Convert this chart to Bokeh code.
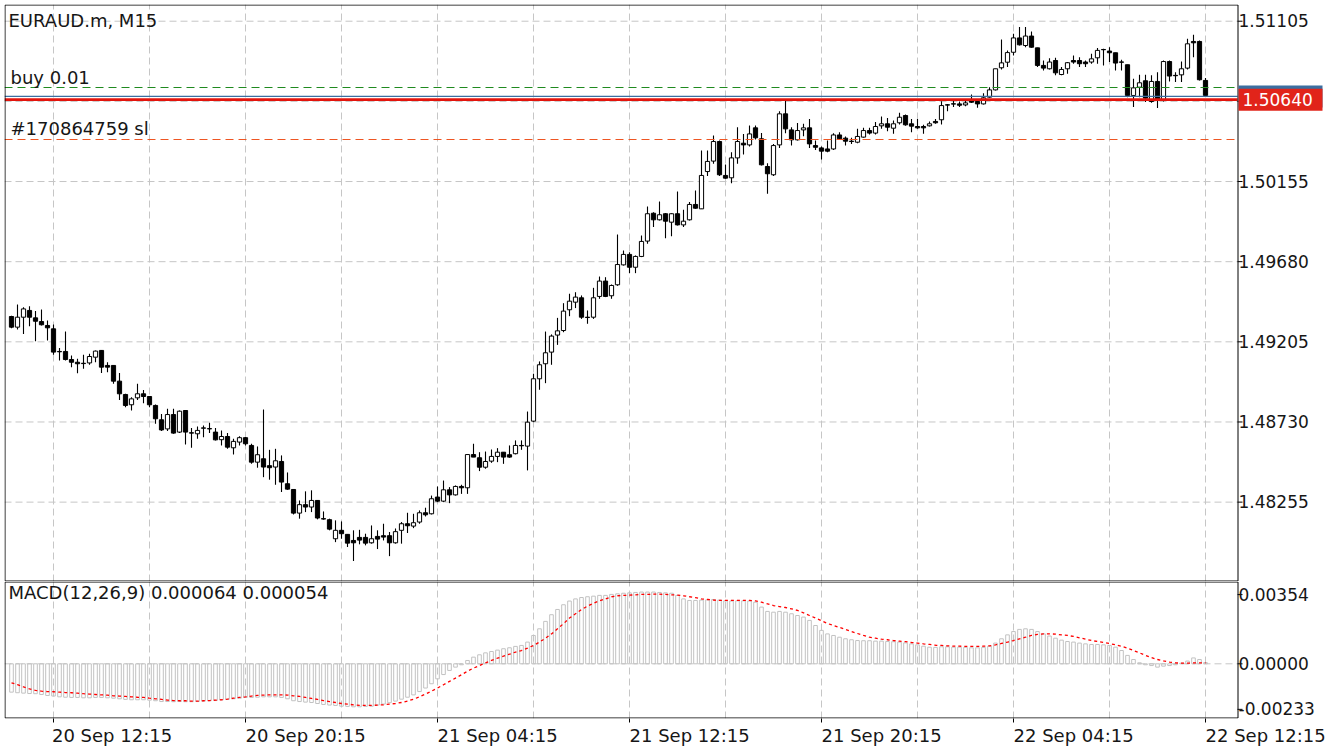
from bokeh.plotting import figure
from bokeh.layouts import column
from bokeh.models import (Range1d, FixedTicker, Grid, LinearAxis, Label,
                          ColumnDataSource)
from bokeh.core.properties import value
from bokeh.embed import file_html
from bokeh.resources import INLINE

# ---------------- data ----------------
chart_title = "EURAUD.m, M15"

opens = [
    1.49355, 1.49292, 1.49351, 1.49391, 1.49347, 1.49325, 1.49302, 1.49282, 1.49148, 1.49148,
    1.49100, 1.49084, 1.49076, 1.49080, 1.49114, 1.49154, 1.49065, 1.49065, 1.48972, 1.48893,
    1.48832, 1.48873, 1.48897, 1.48881, 1.48828, 1.48743, 1.48689, 1.48774, 1.48670, 1.48798,
    1.48666, 1.48660, 1.48693, 1.48689, 1.48670, 1.48625, 1.48644, 1.48577, 1.48611, 1.48637,
    1.48591, 1.48492, 1.48512, 1.48471, 1.48463, 1.48496, 1.48364, 1.48330, 1.48190, 1.48240,
    1.48226, 1.48265, 1.48157, 1.48151, 1.48038, 1.48088, 1.48064, 1.48028, 1.48046, 1.48046,
    1.48014, 1.48052, 1.48056, 1.48056, 1.48014, 1.48088, 1.48127, 1.48113, 1.48137, 1.48192,
    1.48186, 1.48285, 1.48261, 1.48328, 1.48298, 1.48348, 1.48340, 1.48537, 1.48518, 1.48462,
    1.48498, 1.48526, 1.48551, 1.48536, 1.48542, 1.48591, 1.48587, 1.48735, 1.48986, 1.49075,
    1.49144, 1.49245, 1.49272, 1.49395, 1.49440, 1.49466, 1.49351, 1.49351, 1.49474, 1.49565,
    1.49478, 1.49543, 1.49661, 1.49723, 1.49647, 1.49711, 1.49802, 1.49967, 1.49928, 1.49964,
    1.49914, 1.49964, 1.49898, 1.49928, 1.50019, 1.49993, 1.50214, 1.50276, 1.50392, 1.50191,
    1.50177, 1.50295, 1.50382, 1.50372, 1.50473, 1.50408, 1.50244, 1.50195, 1.50372, 1.50556,
    1.50461, 1.50402, 1.50461, 1.50473, 1.50368, 1.50354, 1.50348, 1.50348, 1.50431, 1.50412,
    1.50394, 1.50388, 1.50418, 1.50457, 1.50442, 1.50485, 1.50497, 1.50471, 1.50503, 1.50546,
    1.50497, 1.50481, 1.50481, 1.50485, 1.50511, 1.50521, 1.50609, 1.50615, 1.50615, 1.50609,
    1.50635, 1.50629, 1.50615, 1.50655, 1.50698, 1.50829, 1.50862, 1.50921, 1.51006, 1.50961,
    1.51017, 1.50947, 1.50843, 1.50823, 1.50872, 1.50789, 1.50823, 1.50872, 1.50872, 1.50863,
    1.50863, 1.50888, 1.50936, 1.50928, 1.50918, 1.50863, 1.50847, 1.50665, 1.50714, 1.50752,
    1.50629, 1.50748, 1.50635, 1.50866, 1.50784, 1.50787, 1.50827, 1.50985, 1.50985, 1.50754,
]

highs = [
    1.49359, 1.49426, 1.49410, 1.49416, 1.49387, 1.49396, 1.49331, 1.49308, 1.49169, 1.49266,
    1.49124, 1.49104, 1.49128, 1.49134, 1.49154, 1.49157, 1.49084, 1.49065, 1.49021, 1.48897,
    1.48877, 1.48956, 1.48920, 1.48881, 1.48834, 1.48778, 1.48808, 1.48808, 1.48798, 1.48798,
    1.48695, 1.48703, 1.48709, 1.48725, 1.48695, 1.48680, 1.48664, 1.48631, 1.48645, 1.48641,
    1.48601, 1.48585, 1.48804, 1.48565, 1.48571, 1.48532, 1.48431, 1.48330, 1.48265, 1.48319,
    1.48325, 1.48265, 1.48200, 1.48157, 1.48147, 1.48141, 1.48064, 1.48088, 1.48091, 1.48068,
    1.48117, 1.48088, 1.48127, 1.48078, 1.48099, 1.48137, 1.48192, 1.48186, 1.48206, 1.48222,
    1.48294, 1.48348, 1.48383, 1.48344, 1.48354, 1.48358, 1.48537, 1.48601, 1.48551, 1.48555,
    1.48567, 1.48575, 1.48551, 1.48591, 1.48621, 1.48621, 1.48792, 1.49016, 1.49089, 1.49266,
    1.49249, 1.49347, 1.49434, 1.49490, 1.49499, 1.49480, 1.49391, 1.49525, 1.49592, 1.49588,
    1.49545, 1.49841, 1.49746, 1.49736, 1.49717, 1.49835, 1.50007, 1.49973, 1.50037, 1.49969,
    1.49967, 1.50096, 1.49987, 1.50033, 1.50102, 1.50339, 1.50339, 1.50428, 1.50398, 1.50256,
    1.50329, 1.50477, 1.50437, 1.50487, 1.50487, 1.50443, 1.50263, 1.50378, 1.50572, 1.50635,
    1.50477, 1.50502, 1.50497, 1.50526, 1.50398, 1.50362, 1.50398, 1.50441, 1.50447, 1.50422,
    1.50414, 1.50467, 1.50473, 1.50473, 1.50507, 1.50540, 1.50532, 1.50517, 1.50562, 1.50552,
    1.50526, 1.50526, 1.50491, 1.50511, 1.50525, 1.50631, 1.50615, 1.50635, 1.50629, 1.50635,
    1.50671, 1.50635, 1.50678, 1.50714, 1.50823, 1.50996, 1.50931, 1.51030, 1.51070, 1.51070,
    1.51044, 1.50947, 1.50872, 1.50886, 1.50888, 1.50833, 1.50863, 1.50902, 1.50892, 1.50872,
    1.50912, 1.50946, 1.50942, 1.50951, 1.50918, 1.50876, 1.50847, 1.50764, 1.50787, 1.50787,
    1.50784, 1.50803, 1.50872, 1.50872, 1.50803, 1.50866, 1.51001, 1.51024, 1.50991, 1.50768,
]

lows = [
    1.49286, 1.49278, 1.49252, 1.49298, 1.49209, 1.49302, 1.49213, 1.49128, 1.49094, 1.49094,
    1.49055, 1.49019, 1.49045, 1.49069, 1.49084, 1.49021, 1.49025, 1.48956, 1.48861, 1.48818,
    1.48798, 1.48861, 1.48841, 1.48818, 1.48719, 1.48676, 1.48676, 1.48660, 1.48664, 1.48597,
    1.48577, 1.48630, 1.48640, 1.48664, 1.48620, 1.48591, 1.48571, 1.48538, 1.48591, 1.48591,
    1.48482, 1.48459, 1.48403, 1.48388, 1.48358, 1.48315, 1.48328, 1.48182, 1.48157, 1.48196,
    1.48196, 1.48153, 1.48151, 1.48088, 1.48018, 1.48038, 1.47989, 1.47906, 1.48005, 1.47999,
    1.48009, 1.47977, 1.48028, 1.47935, 1.48009, 1.48009, 1.48072, 1.48101, 1.48127, 1.48170,
    1.48182, 1.48255, 1.48255, 1.48249, 1.48294, 1.48304, 1.48304, 1.48522, 1.48439, 1.48453,
    1.48488, 1.48492, 1.48482, 1.48518, 1.48538, 1.48565, 1.48443, 1.48729, 1.48921, 1.48960,
    1.49069, 1.49187, 1.49262, 1.49357, 1.49405, 1.49341, 1.49312, 1.49341, 1.49460, 1.49470,
    1.49460, 1.49537, 1.49657, 1.49612, 1.49612, 1.49707, 1.49786, 1.49885, 1.49924, 1.49819,
    1.49831, 1.49894, 1.49885, 1.49924, 1.49993, 1.49993, 1.50187, 1.50260, 1.50187, 1.50171,
    1.50145, 1.50260, 1.50315, 1.50362, 1.50404, 1.50250, 1.50082, 1.50187, 1.50354, 1.50441,
    1.50368, 1.50398, 1.50423, 1.50354, 1.50342, 1.50285, 1.50329, 1.50342, 1.50402, 1.50368,
    1.50378, 1.50382, 1.50414, 1.50434, 1.50434, 1.50467, 1.50453, 1.50438, 1.50493, 1.50485,
    1.50447, 1.50467, 1.50438, 1.50481, 1.50497, 1.50493, 1.50572, 1.50596, 1.50596, 1.50601,
    1.50621, 1.50592, 1.50611, 1.50651, 1.50694, 1.50819, 1.50833, 1.50902, 1.50961, 1.50951,
    1.50947, 1.50833, 1.50813, 1.50819, 1.50784, 1.50784, 1.50793, 1.50853, 1.50833, 1.50833,
    1.50853, 1.50853, 1.50843, 1.50863, 1.50813, 1.50813, 1.50655, 1.50596, 1.50655, 1.50626,
    1.50622, 1.50590, 1.50629, 1.50748, 1.50744, 1.50744, 1.50819, 1.50892, 1.50754, 1.50661,
]

closes = [
    1.49292, 1.49351, 1.49400, 1.49351, 1.49327, 1.49306, 1.49288, 1.49144, 1.49146, 1.49100,
    1.49084, 1.49075, 1.49078, 1.49118, 1.49150, 1.49055, 1.49055, 1.48972, 1.48897, 1.48828,
    1.48867, 1.48897, 1.48881, 1.48832, 1.48749, 1.48683, 1.48774, 1.48664, 1.48794, 1.48670,
    1.48664, 1.48680, 1.48695, 1.48691, 1.48624, 1.48644, 1.48581, 1.48615, 1.48637, 1.48601,
    1.48492, 1.48536, 1.48463, 1.48459, 1.48500, 1.48374, 1.48332, 1.48190, 1.48240, 1.48226,
    1.48265, 1.48161, 1.48155, 1.48095, 1.48088, 1.48068, 1.48012, 1.48014, 1.48030, 1.48012,
    1.48038, 1.48036, 1.48048, 1.48014, 1.48080, 1.48127, 1.48115, 1.48133, 1.48192, 1.48180,
    1.48275, 1.48261, 1.48328, 1.48298, 1.48348, 1.48340, 1.48537, 1.48522, 1.48462, 1.48496,
    1.48526, 1.48551, 1.48522, 1.48522, 1.48591, 1.48589, 1.48729, 1.48986, 1.49069, 1.49140,
    1.49239, 1.49270, 1.49387, 1.49446, 1.49470, 1.49351, 1.49349, 1.49466, 1.49565, 1.49474,
    1.49539, 1.49663, 1.49723, 1.49647, 1.49711, 1.49800, 1.49964, 1.49928, 1.49958, 1.49920,
    1.49964, 1.49898, 1.49920, 1.50019, 1.49997, 1.50191, 1.50274, 1.50392, 1.50195, 1.50175,
    1.50295, 1.50392, 1.50372, 1.50437, 1.50414, 1.50254, 1.50201, 1.50368, 1.50556, 1.50467,
    1.50402, 1.50457, 1.50473, 1.50378, 1.50358, 1.50335, 1.50335, 1.50431, 1.50408, 1.50394,
    1.50392, 1.50422, 1.50457, 1.50442, 1.50481, 1.50497, 1.50477, 1.50497, 1.50536, 1.50491,
    1.50483, 1.50473, 1.50473, 1.50497, 1.50503, 1.50605, 1.50608, 1.50614, 1.50607, 1.50621,
    1.50625, 1.50615, 1.50651, 1.50698, 1.50823, 1.50858, 1.50919, 1.51006, 1.50965, 1.51017,
    1.50951, 1.50843, 1.50827, 1.50863, 1.50799, 1.50819, 1.50859, 1.50863, 1.50853, 1.50853,
    1.50882, 1.50932, 1.50937, 1.50918, 1.50857, 1.50862, 1.50665, 1.50710, 1.50740, 1.50649,
    1.50748, 1.50635, 1.50866, 1.50780, 1.50782, 1.50823, 1.50971, 1.50977, 1.50758, 1.50665,
]

# MACD(12,26,9) main and signal, in units of 1e-5
macd_main_x1e5 = [
    -145, -148, -150, -152, -153, -157, -162, -165, -169, -171,
    -172, -172, -174, -174, -172, -172, -174, -176, -179, -182,
    -184, -184, -184, -186, -189, -193, -193, -194, -193, -194,
    -194, -193, -191, -189, -188, -184, -182, -179, -176, -172,
    -172, -171, -169, -169, -169, -172, -179, -189, -193, -196,
    -198, -203, -208, -211, -213, -217, -218, -220, -220, -218,
    -217, -211, -206, -199, -191, -181, -171, -159, -142, -124,
    -102, -77, -55, -34, -17, -5, 17, 34, 46, 56,
    63, 70, 77, 82, 89, 94, 111, 145, 179, 217,
    251, 278, 302, 321, 332, 339, 343, 346, 350, 350,
    355, 358, 361, 363, 365, 367, 367, 367, 365, 363,
    361, 350, 332, 324, 324, 326, 327, 329, 326, 322,
    321, 322, 322, 321, 315, 290, 268, 264, 268, 264,
    256, 247, 239, 222, 196, 171, 153, 145, 136, 128,
    123, 119, 118, 118, 116, 116, 114, 113, 111, 107,
    102, 97, 90, 85, 84, 87, 87, 85, 85, 84,
    82, 82, 84, 90, 106, 128, 148, 165, 176, 179,
    176, 165, 153, 142, 131, 121, 114, 111, 106, 102,
    99, 99, 97, 94, 85, 68, 43, 22, 5, -5,
    -9, -17, -12, -9, -5, 3, 14, 30, 22, 6.4,
]

macd_signal_x1e5 = [
    -97, -107, -118, -128, -136, -140, -142, -143, -145, -147,
    -148, -150, -153, -155, -157, -159, -160, -164, -165, -167,
    -169, -171, -172, -176, -179, -182, -186, -188, -189, -189,
    -191, -191, -189, -188, -186, -184, -181, -176, -172, -169,
    -165, -162, -160, -159, -159, -159, -160, -164, -167, -172,
    -177, -182, -188, -193, -198, -203, -206, -210, -213, -213,
    -213, -211, -210, -206, -203, -198, -191, -181, -169, -155,
    -140, -124, -107, -90, -73, -56, -38, -22, -9, 5,
    17, 29, 39, 49, 60, 68, 80, 94, 111, 131,
    153, 179, 205, 234, 256, 278, 295, 310, 322, 332,
    343, 348, 350, 351, 353, 355, 355, 356, 356, 355,
    353, 351, 348, 343, 338, 332, 329, 326, 324, 324,
    324, 324, 324, 324, 322, 315, 307, 298, 293, 288,
    281, 273, 261, 247, 234, 220, 206, 196, 186, 176,
    165, 155, 145, 136, 131, 126, 123, 119, 116, 113,
    109, 106, 102, 99, 95, 94, 92, 90, 90, 89,
    89, 89, 90, 92, 97, 104, 111, 119, 128, 136,
    145, 150, 153, 153, 152, 148, 145, 140, 133, 126,
    119, 114, 109, 104, 97, 90, 80, 68, 56, 43,
    32, 22, 15, 9, 5, 3, 3, 5, 5, 5.4,
]

x_label_bars = [7, 39, 71, 103, 135, 167, 199]
x_labels = ["20 Sep 12:15", "20 Sep 20:15", "21 Sep 04:15", "21 Sep 12:15",
            "21 Sep 20:15", "22 Sep 04:15", "22 Sep 12:15"]
grid_bars = [7, 23, 39, 55, 71, 87, 103, 119, 135, 151, 167, 183, 199]
price_ticks = [1.48255, 1.48730, 1.49205, 1.49680, 1.50155, 1.50630, 1.51105]
macd_ticks = [-0.00233, 0.0, 0.00354]

bid_price = 1.50640
ask_price = 1.50659
buy_price = 1.50712
sl_price = 1.50404
buy_text = "buy 0.01"
sl_text = "#170864759 sl"
macd_text = "MACD(12,26,9) 0.000064 0.000054"

# ---------------- layout / styling constants ----------------
FONT = "DejaVu Sans"
TXT = "#161616"
GRID = "#c6c6c6"
NBSP = "\u00a0"
RED = "#e1241a"
BLUE = "#3b6ea0"

FRAME_W = 1324                 # frame spans pixels 4..1328
PX = 1 / 6                     # bar units per screen pixel
XS = -7 * PX                   # left edge of the chart area
XE = XS + 1233 * PX            # right edge of the chart area (price scale starts here)
x_range = Range1d(XS, XS + FRAME_W * PX)

Y1 = (1.477847, 1.512040)      # price panel, 577 px tall
PY1 = (Y1[1] - Y1[0]) / 577
Y2 = (-0.002798, 0.004210)     # MACD panel, 137 px tall
PY2 = (Y2[1] - Y2[0]) / 137

n = len(closes)
idx = list(range(n))


def price_scale(p, ticks, labels, y_lo, y_hi, py):
    ax = p.yaxis[0]
    ax.ticker = FixedTicker(ticks=ticks)
    ax.major_label_overrides = dict(zip(ticks, labels))
    ax.major_tick_line_color = None
    ax.minor_tick_line_color = None
    ax.axis_line_color = None
    ax.major_label_standoff = -96
    ax.major_label_text_font = FONT
    ax.major_label_text_font_size = "17px"
    ax.major_label_text_color = TXT
    # small tick marks next to the scale
    p.segment(x0=[XE] * len(ticks), x1=[XE + 5 * PX] * len(ticks), y0=ticks, y1=ticks,
              line_color="black", line_width=1)
    # frame of the chart area
    p.quad(left=XS + 0.5 * PX, right=XE + 0.5 * PX, top=y_hi - 0.5 * py,
           bottom=y_lo + 0.5 * py, fill_color=None, line_color="black", line_width=1)


def new_fig(frame_h, y_rng, top, bottom):
    p = figure(frame_width=FRAME_W, frame_height=frame_h, x_range=x_range,
               y_range=Range1d(*y_rng), output_backend="svg", toolbar_location=None,
               x_axis_location=None, y_axis_location="right",
               min_border_left=4, min_border_right=6,
               min_border_top=top, min_border_bottom=bottom)
    p.background_fill_color = "white"
    p.border_fill_color = "white"
    p.outline_line_color = None
    p.grid.grid_line_color = None
    p.add_layout(Grid(dimension=0, ticker=FixedTicker(ticks=grid_bars),
                      grid_line_color=GRID, grid_line_dash="7 4", grid_line_width=1))
    return p


# ---------------- main price panel ----------------
p1 = new_fig(577, Y1, 4, 0)
p1.segment(x0=[XS] * len(price_ticks), x1=[XE] * len(price_ticks),
           y0=price_ticks, y1=price_ticks, line_color=GRID, line_dash="7 4", line_width=1)

body_top = [max(o, c) for o, c in zip(opens, closes)]
body_bot = [min(o, c) for o, c in zip(opens, closes)]
body_top = [max(t, b + 0.000015) for t, b in zip(body_top, body_bot)]
fills = ["white" if c >= o else "black" for o, c in zip(opens, closes)]
csrc = ColumnDataSource(dict(x=idx, h=highs, l=lows, top=body_top,
                             bottom=body_bot, fill=fills))
p1.segment(x0="x", y0="l", x1="x", y1="h", source=csrc,
           line_color="black", line_width=1.1)
p1.vbar(x="x", top="top", bottom="bottom", width=0.7, source=csrc,
        fill_color="fill", line_color="black", line_width=1)

p1.segment(x0=XS, x1=XE, y0=buy_price, y1=buy_price, line_color="#1f8a1f",
           line_dash="8 5", line_width=1.2)
p1.segment(x0=XS, x1=XE, y0=sl_price, y1=sl_price, line_color="#ee5522",
           line_dash="8 5", line_width=1.2)
p1.segment(x0=XS, x1=XE, y0=ask_price, y1=ask_price, line_color=BLUE, line_width=1.3)
p1.segment(x0=XS, x1=XE, y0=bid_price, y1=bid_price, line_color="#e3140c", line_width=2.6)

price_labels = [("" if abs(t - 1.5063) < 1e-9 else f"{t:.5f}" + NBSP * 4) for t in price_ticks]
price_scale(p1, price_ticks, price_labels, Y1[0], Y1[1], PY1)

# current ask / bid boxes on the price scale
p1.rect(x=XE + 43 * PX, y=ask_price, width=84, height=22, width_units="screen",
        height_units="screen", fill_color=BLUE, line_color=None)
p1.rect(x=XE + 43 * PX, y=bid_price, width=84, height=22, width_units="screen",
        height_units="screen", fill_color=RED, line_color=None)
p1.text(x=[XE + 5 * PX], y=[bid_price], text=[f"{bid_price:.5f}"],
        text_font=value(FONT), text_font_size="17px", text_color="white",
        text_align="left", text_baseline="middle")

p1.add_layout(Label(x=-0.5, y=1.511121, text=chart_title, text_font=FONT,
                    text_font_size="18px", text_color=TXT, text_baseline="middle"))
p1.add_layout(Label(x=-1 / 6, y=1.507714, text=buy_text, text_font=FONT,
                    text_font_size="18px", text_color=TXT, text_baseline="middle"))
p1.add_layout(Label(x=-1 / 6, y=1.504692, text=sl_text, text_font=FONT,
                    text_font_size="18px", text_color=TXT, text_baseline="middle"))

# ---------------- MACD panel ----------------
macd_main = [v * 1e-5 for v in macd_main_x1e5]
macd_signal = [v * 1e-5 for v in macd_signal_x1e5]
msrc = ColumnDataSource(dict(x=idx, m=macd_main, s=macd_signal))

p2 = new_fig(137, Y2, 0, 32)
p2.segment(x0=XS, x1=XE, y0=0.0, y1=0.0, line_color=GRID, line_dash="7 4", line_width=1)

p2.vbar(x="x", top="m", bottom=0, width=0.6, source=msrc,
        fill_color=None, line_color="#c2c2c2", line_width=1)
p2.line(x="x", y="s", source=msrc, line_color="#ff0000", line_width=1.3,
        line_dash="3 3")

macd_labels = [f"{t:.5f}" + NBSP * (3 if t < 0 else 4) for t in macd_ticks]
price_scale(p2, macd_ticks, macd_labels, Y2[0], Y2[1], PY2)

# time labels start at their tick: pad each label on the left
pads = [9] + [21] * (len(x_labels) - 1)
xax = LinearAxis(ticker=FixedTicker(ticks=x_label_bars),
                 major_label_overrides={b: NBSP * k + t for b, t, k in zip(x_label_bars, x_labels, pads)},
                 major_label_text_font=FONT, major_label_text_font_size="18px",
                 major_label_text_color=TXT, major_label_standoff=2,
                 major_tick_out=4, major_tick_in=0, minor_tick_line_color=None,
                 axis_line_color=None, major_tick_line_color="black")
p2.add_layout(xax, "below")

p2.add_layout(Label(x=-0.5, y=0.003647, text=macd_text, text_font=FONT,
                    text_font_size="18px", text_color=TXT, text_baseline="middle"))

layout = column(p1, p2)
open("out.html", "w").write(file_html(layout, INLINE))
